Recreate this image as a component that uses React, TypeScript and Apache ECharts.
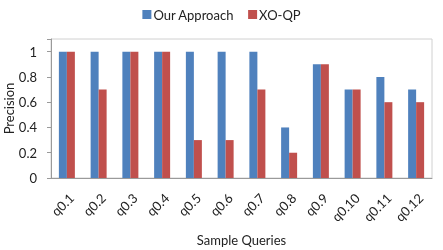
import React, { useEffect, useRef } from "react";
import * as echarts from "echarts";

const categories = ["q0.1", "q0.2", "q0.3", "q0.4", "q0.5", "q0.6", "q0.7", "q0.8", "q0.9", "q0.10", "q0.11", "q0.12"];
const ourApproach = [1, 1, 1, 1, 1, 1, 1, 0.4, 0.9, 0.7, 0.8, 0.7];
const xoqp = [1, 0.7, 1, 1, 0.3, 0.3, 0.7, 0.2, 0.9, 0.7, 0.6, 0.6];
const seriesNames = ["Our Approach", "XO-QP"];

const FONT = "Lato";

export default function App() {
  const ref = useRef<HTMLDivElement>(null);
  useEffect(() => {
    const chart = echarts.init(ref.current!, undefined, { renderer: "svg" });
    chart.setOption({
      animation: false,
      textStyle: { fontFamily: FONT },
      legend: {
        top: 3,
        left: "center",
        icon: "rect",
        itemWidth: 9,
        itemHeight: 9,
        itemGap: 14,
        textStyle: { fontFamily: FONT, fontSize: 13, color: "#222", padding: [0, 0, 0, -3] },
        data: seriesNames,
      },
      grid: {
        left: 51,
        right: 11,
        top: 39,
        bottom: 72,
        outerBoundsMode: "none",
        containLabel: false,
        show: true,
        borderColor: "#d0d0d0",
        borderWidth: 1,
      },
      xAxis: {
        type: "category",
        data: categories,
        name: "Sample Queries",
        nameLocation: "middle",
        nameGap: 55,
        nameMoveOverlap: false,
        nameTextStyle: { fontFamily: FONT, fontSize: 13, color: "#222" },
        axisLine: { lineStyle: { color: "#9a9a9a" } },
        axisTick: { show: false },
        axisLabel: { rotate: 45, fontFamily: FONT, fontSize: 13, color: "#222", margin: 13, verticalAlign: "top" },
      },
      yAxis: {
        type: "value",
        min: 0,
        max: 1.1,
        interval: 0.2,
        name: "Precision",
        nameLocation: "middle",
        nameGap: 36,
        nameMoveOverlap: false,
        nameTextStyle: { fontFamily: FONT, fontSize: 13, color: "#222" },
        axisLine: { show: true, lineStyle: { color: "#9a9a9a" } },
        axisTick: { show: true, length: 4, lineStyle: { color: "#9a9a9a" } },
        splitLine: { show: false },
        axisLabel: {
          fontFamily: FONT,
          fontSize: 13,
          color: "#222",
          margin: 14,
          formatter: (v: number) => (v > 1.01 ? "" : String(Math.round(v * 10) / 10)),
        },
      },
      series: [
        {
          name: seriesNames[0],
          type: "bar",
          data: ourApproach,
          barWidth: 8,
          barGap: "0%",
          itemStyle: { color: "#4F81BD" },
        },
        {
          name: seriesNames[1],
          type: "bar",
          data: xoqp,
          barWidth: 8,
          barGap: "0%",
          itemStyle: { color: "#C0504D" },
        },
      ],
    });
    return () => chart.dispose();
  }, []);
  return <div ref={ref} style={{ position: "fixed", left: 0, top: 0, width: 443, height: 250 }} />;
}
